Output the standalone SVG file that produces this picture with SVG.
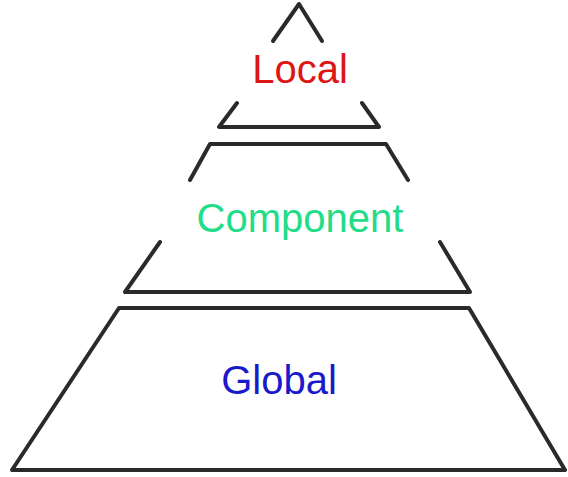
<svg xmlns="http://www.w3.org/2000/svg" width="568" height="477" viewBox="0 0 568 477">
<style>
.ln{fill:none;stroke:#2a2a2a;stroke-width:4;stroke-linecap:round;stroke-linejoin:round}
.t{font-family:"Liberation Sans",Arial,sans-serif;font-size:40px;text-anchor:middle}
</style>
<rect width="568" height="477" fill="#ffffff"/>
<g id="connectors"></g>
<g id="local">
<polyline class="ln" points="273,41 299,4 322,41"/>
<polyline class="ln" points="237,103 219,127 379,127 362,103"/>
<text class="t" x="300" y="83" fill="#dd1515">Local</text>
</g>
<g id="component">
<polyline class="ln" points="190,180 210,144 386,144 408,180"/>
<polyline class="ln" points="160,242 125,292 470,292 440,242"/>
<text class="t" x="300" y="232" fill="#22dd88">Component</text>
</g>
<g id="global">
<polygon class="ln" points="119,308 469,308 565,470 12,470"/>
<text class="t" x="279" y="394" fill="#1a1acc">Global</text>
</g>
</svg>
